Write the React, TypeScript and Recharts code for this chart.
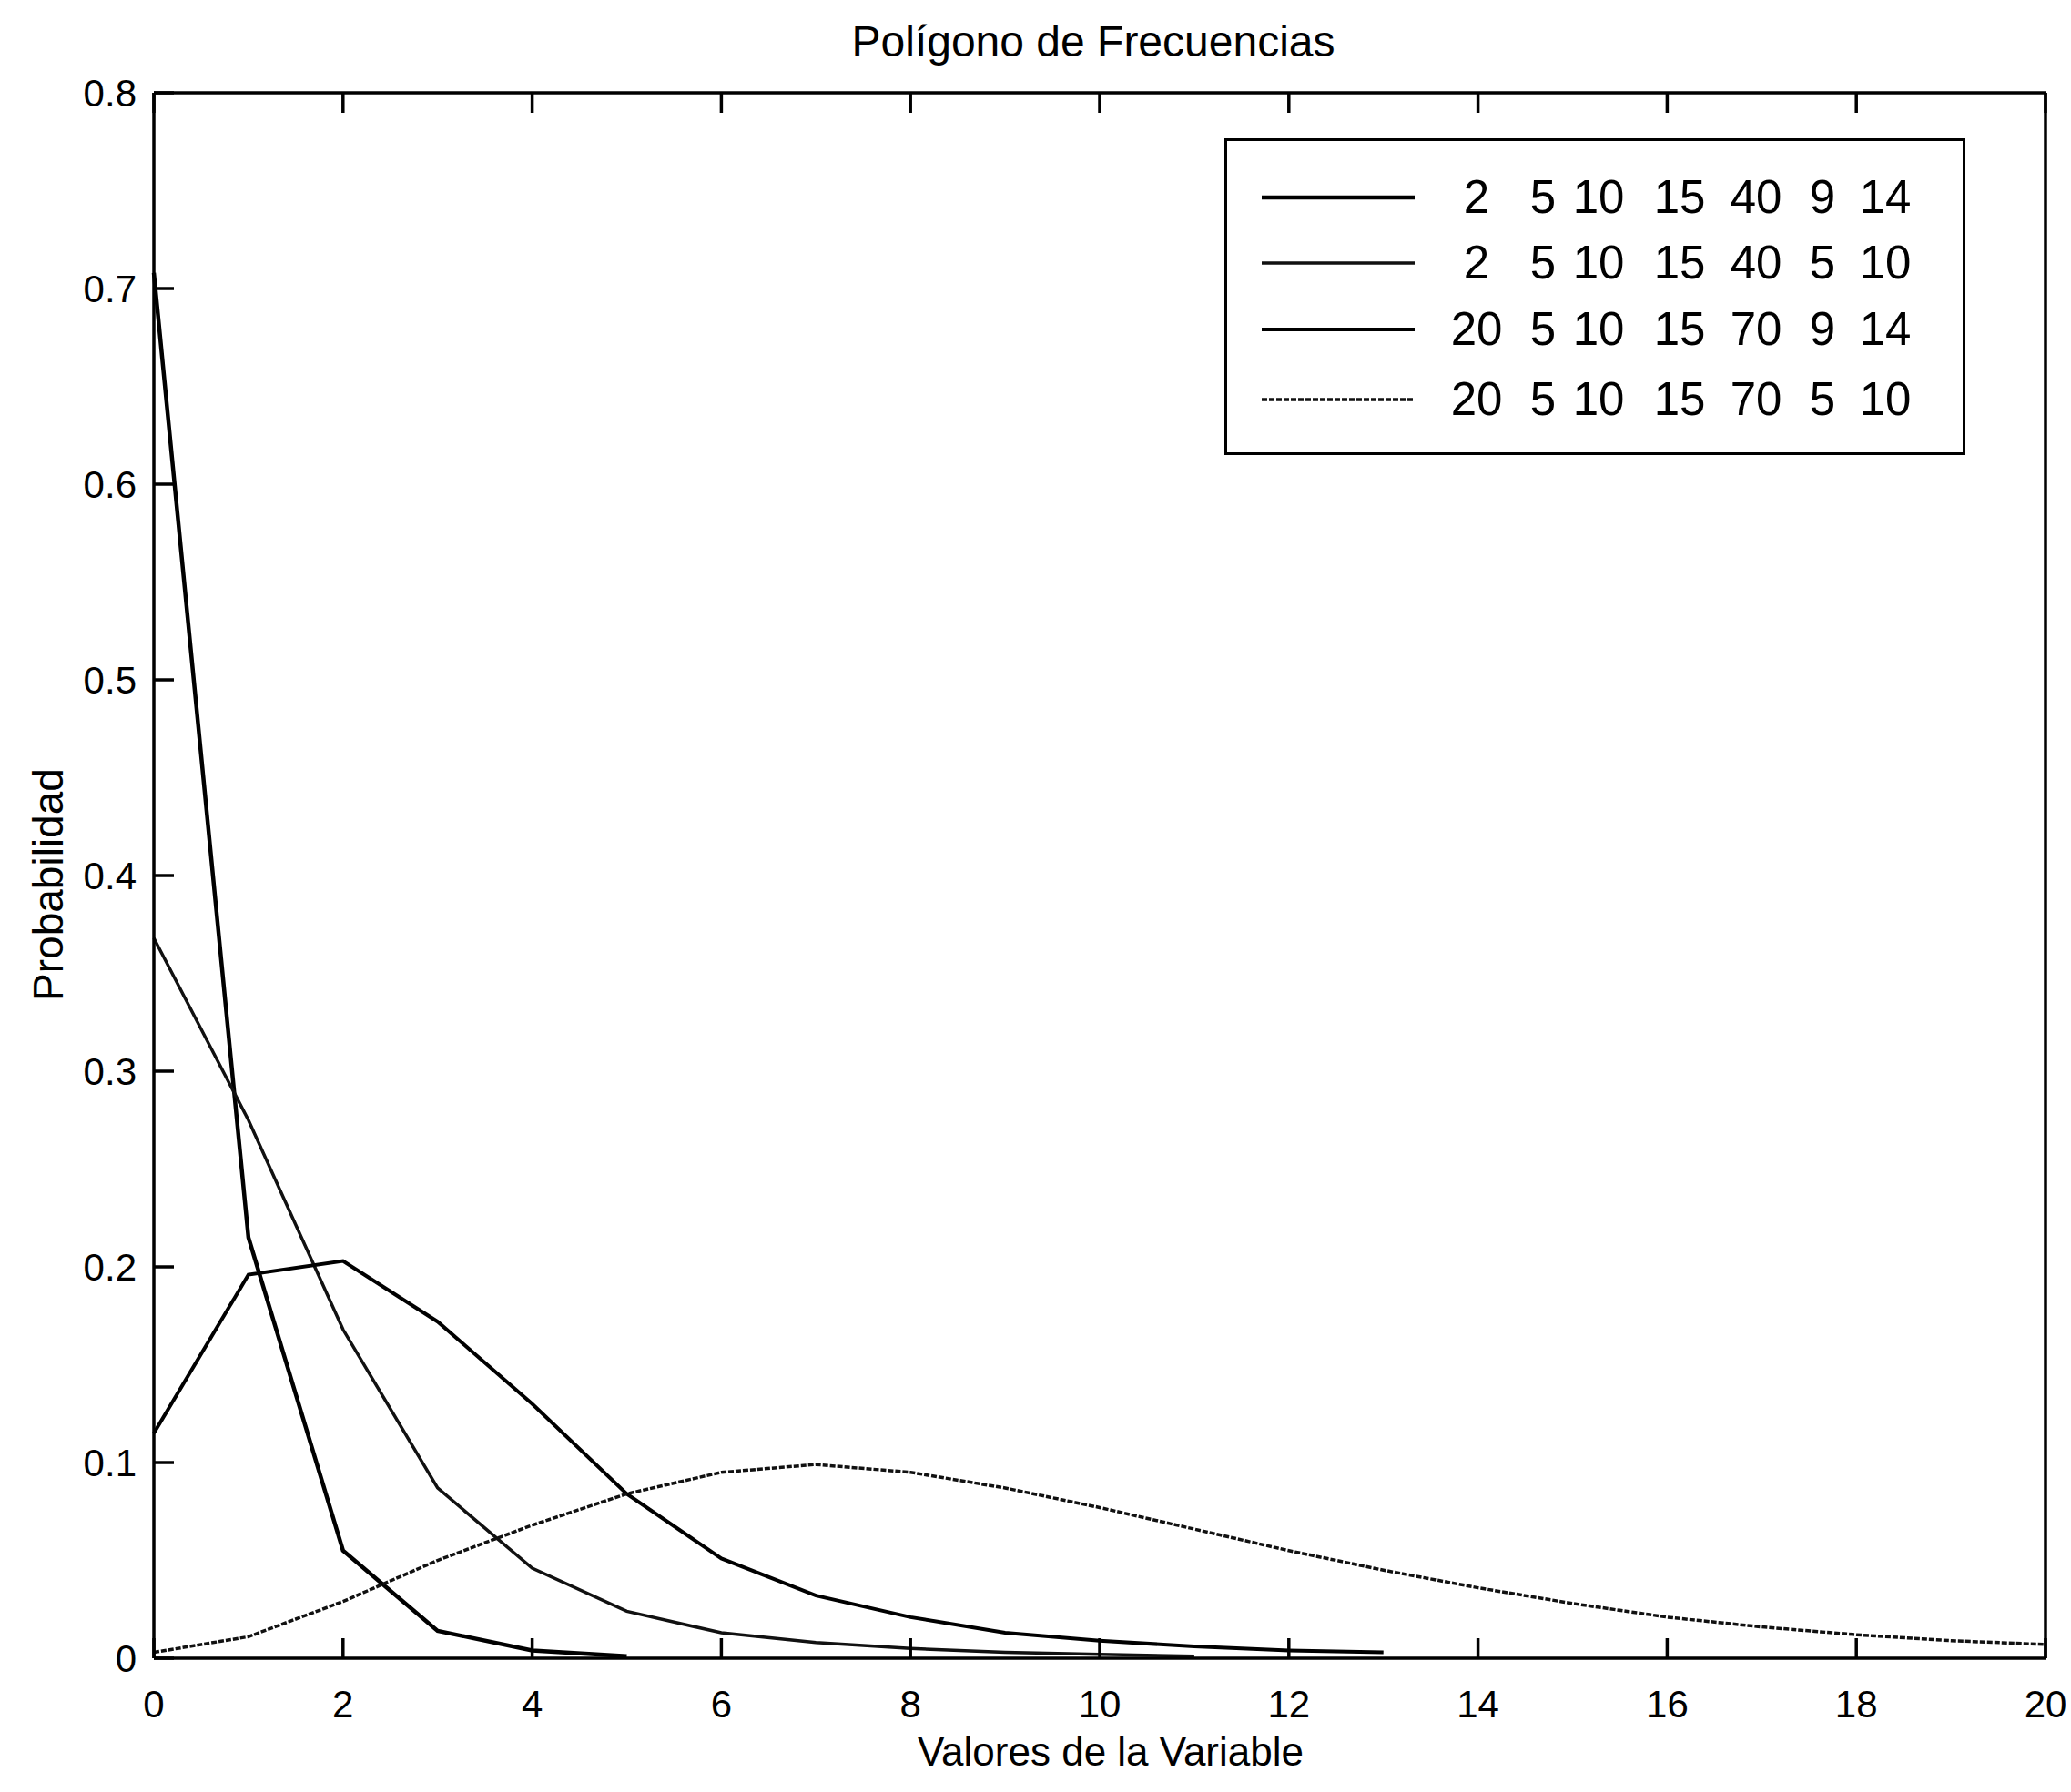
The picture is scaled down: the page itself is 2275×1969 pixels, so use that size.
import React from "react";
import { LineChart, Line, XAxis, YAxis, Legend } from "recharts";

// Valores de la variable (eje X)
const xValues = [0, 1, 2, 3, 4, 5, 6, 7, 8, 9, 10, 11, 12, 13, 14, 15, 16, 17, 18, 19, 20];

// Probabilidades (null = la curva ya terminó)
const serie1 = [0.708, 0.215, 0.055, 0.014, 0.004, 0.001];
const serie2 = [0.368, 0.275, 0.168, 0.087, 0.046, 0.024, 0.013, 0.008, 0.005, 0.003, 0.002, 0.001];
const serie3 = [0.115, 0.196, 0.203, 0.172, 0.13, 0.084, 0.051, 0.032, 0.021, 0.013, 0.009, 0.006, 0.004, 0.003];
const serie4 = [
  0.003, 0.011, 0.029, 0.05, 0.068, 0.084, 0.095, 0.099, 0.095, 0.087, 0.077, 0.066, 0.055, 0.045, 0.036,
  0.028, 0.021, 0.016, 0.012, 0.009, 0.007,
];

// Etiquetas de la leyenda (parámetros de cada curva)
const legendLabels = [
  ["2", "5", "10", "15", "40", "9", "14"],
  ["2", "5", "10", "15", "40", "5", "10"],
  ["20", "5", "10", "15", "70", "9", "14"],
  ["20", "5", "10", "15", "70", "5", "10"],
];

const xTicks = [0, 2, 4, 6, 8, 10, 12, 14, 16, 18, 20];
const yTicks = [0, 0.1, 0.2, 0.3, 0.4, 0.5, 0.6, 0.7, 0.8];

const seriesKeys = ["s1", "s2", "s3", "s4"];
const seriesStyles = [
  { stroke: "#000", width: 4.5, dash: undefined },
  { stroke: "#111", width: 3.5, dash: undefined },
  { stroke: "#000", width: 4, dash: undefined },
  { stroke: "#111", width: 3.5, dash: "6 2" },
];

const data = xValues.map((x, i) => ({
  x,
  s1: serie1[i] ?? null,
  s2: serie2[i] ?? null,
  s3: serie3[i] ?? null,
  s4: serie4[i] ?? null,
}));

const FONT = "'Liberation Sans', Arial, sans-serif";
const tickStyle = { fontSize: 42, fontFamily: FONT, fill: "#000" };
const axisLine = { stroke: "#000", strokeWidth: 3.5 };

// column centres (relative to legend box) for each number
const colCenters = [274, 347, 408, 497, 581, 654, 723];

function MatlabLegend() {
  return (
    <div
      style={{
        position: "relative",
        width: 814,
        height: 348,
        border: "3px solid #000",
        boxSizing: "border-box",
        background: "#fff",
        fontFamily: FONT,
      }}
    >
      {legendLabels.map((row, r) => {
        const top = [62, 134, 207, 284][r];
        const st = seriesStyles[r];
        return (
          <React.Fragment key={r}>
            <svg style={{ position: "absolute", left: 38, top: top - 10 }} width={170} height={20}>
              <line
                x1={0}
                x2={168}
                y1={10}
                y2={10}
                stroke={st.stroke}
                strokeWidth={st.width}
                strokeDasharray={st.dash}
              />
            </svg>
            {row.map((t, c) => (
              <div
                key={c}
                style={{
                  position: "absolute",
                  left: colCenters[c] - 40,
                  width: 80,
                  top: top - 30,
                  textAlign: "center",
                  fontSize: 51,
                  lineHeight: "60px",
                  color: "#000",
                }}
              >
                {t}
              </div>
            ))}
          </React.Fragment>
        );
      })}
    </div>
  );
}

export default function App() {
  return (
    <div style={{ position: "absolute", left: 0, top: 0, width: 2275, height: 1969, background: "#fff" }}>
      <div
        style={{
          position: "absolute",
          left: 0,
          width: 2402,
          top: 18,
          textAlign: "center",
          fontFamily: FONT,
          fontSize: 48,
          lineHeight: "56px",
          color: "#000",
        }}
      >
        Polígono de Frecuencias
      </div>
      <div
        style={{
          position: "absolute",
          left: 0,
          width: 2440,
          top: 1900,
          textAlign: "center",
          fontFamily: FONT,
          fontSize: 44,
          lineHeight: "50px",
          color: "#000",
        }}
      >
        Valores de la Variable
      </div>
      <div
        style={{
          position: "absolute",
          left: 53,
          top: 972,
          transform: "translate(-50%, -50%) rotate(-90deg)",
          fontFamily: FONT,
          fontSize: 46,
          lineHeight: "50px",
          color: "#000",
          whiteSpace: "nowrap",
        }}
      >
        Probabilidad
      </div>
      <LineChart
        width={2275}
        height={1969}
        data={data}
        margin={{ top: 101, right: 27, left: 168, bottom: 146 }}
        style={{ position: "absolute", left: 0, top: 0 }}
      >
        <XAxis
          dataKey="x"
          type="number"
          domain={[0, 20]}
          ticks={xTicks}
          height={1}
          axisLine={axisLine}
          tickLine={axisLine}
          tickSize={-22}
          tickMargin={57}
          tick={tickStyle}
          interval={0}
        />
        <XAxis
          xAxisId="top"
          orientation="top"
          dataKey="x"
          type="number"
          domain={[0, 20]}
          ticks={xTicks}
          height={1}
          axisLine={axisLine}
          tickLine={axisLine}
          tickSize={-22}
          tickFormatter={() => ""}
          interval={0}
        />
        <YAxis
          type="number"
          domain={[0, 0.8]}
          ticks={yTicks}
          width={1}
          allowDataOverflow
          axisLine={axisLine}
          tickLine={axisLine}
          tickSize={-22}
          tickMargin={41}
          tick={tickStyle}
          tickFormatter={(v: number) => (v === 0 ? "0" : v.toFixed(1))}
          interval={0}
        />
        <YAxis
          yAxisId="right"
          orientation="right"
          type="number"
          domain={[0, 0.8]}
          ticks={yTicks}
          width={1}
          axisLine={axisLine}
          tickLine={axisLine}
          tickSize={-22}
          tickFormatter={() => ""}
          interval={0}
        />
        <Legend
          layout="horizontal"
          verticalAlign="middle"
          align="center"
          wrapperStyle={{ position: "absolute", left: 1345, top: 152, width: 814, height: 348 }}
          content={() => <MatlabLegend />}
        />
        {seriesKeys.map((k, i) => (
          <Line
            key={k}
            type="linear"
            dataKey={k}
            stroke={seriesStyles[i].stroke}
            strokeWidth={seriesStyles[i].width}
            strokeDasharray={seriesStyles[i].dash}
            dot={false}
            activeDot={false}
            isAnimationActive={false}
            connectNulls={false}
          />
        ))}
      </LineChart>
    </div>
  );
}
